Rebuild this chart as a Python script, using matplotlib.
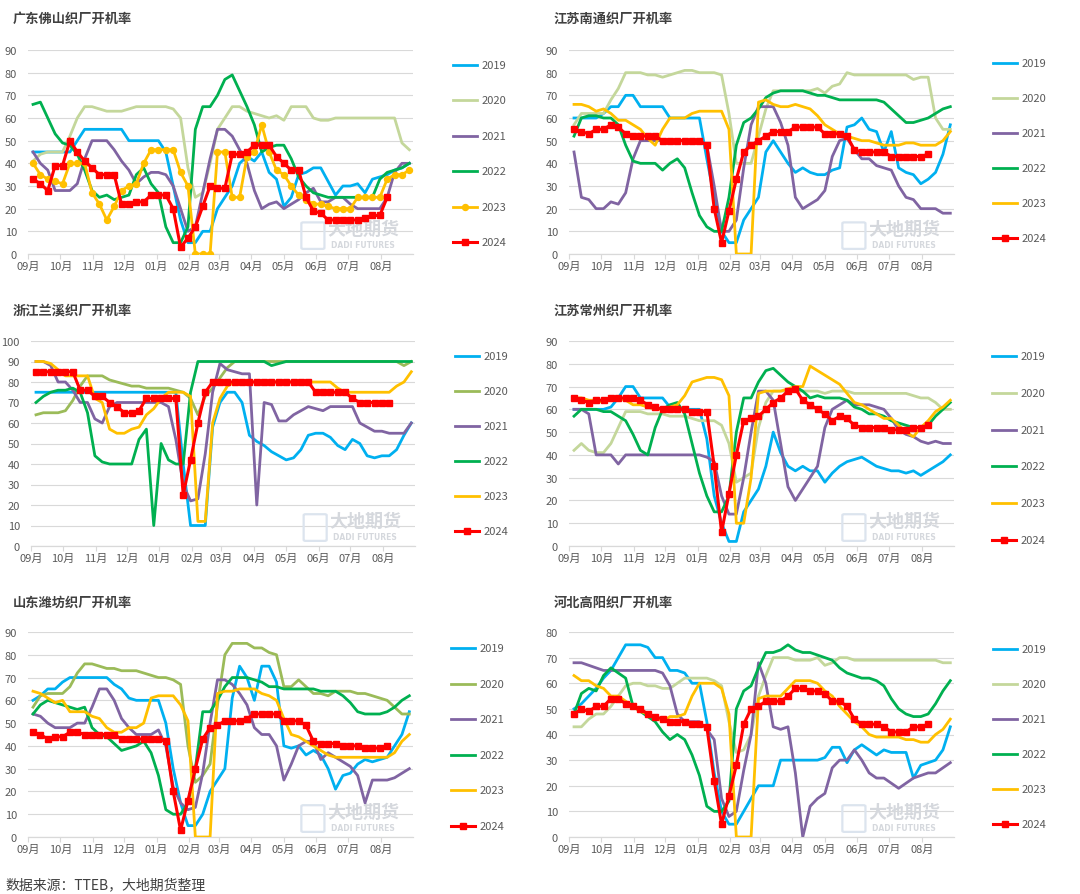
import numpy as np
import matplotlib
matplotlib.use('Agg')
import matplotlib.pyplot as plt
from matplotlib.lines import Line2D
from matplotlib.patches import FancyBboxPatch

plt.rcParams['font.family'] = ['Noto Sans CJK SC', 'DejaVu Sans']

# ---------------- data (weekly, k = 0..51) ----------------
months = ['09月', '10月', '11月', '12月', '01月', '02月', '03月', '04月', '05月', '06月', '07月', '08月']
years = ['2019', '2020', '2021', '2022', '2023', '2024']

# 广东佛山
fs_2019 = [45,45,45,45,45,45,50,55,55,55, 55,55,55,50,50,50,50,50,45,30, 15,5,5,10,10,20,25,30,40,43, 41,45,36,33,21,25,35,36,38,38, 32,26,30,30,31,27,33,34,35,37, 38,40]
fs_2020 = [41,44,45,45,45,52,60,65,65,64, 63,63,63,64,65,65,65,65,65,64, 60,38,25,27,40,55,60,65,65,63, 62,61,60,61,59,65,65,65,60,59, 59,60,60,60,60,60,60,60,60,60, 49,46]
fs_2021 = [45,40,37,28,28,28,31,42,50,50, 50,46,41,37,31,34,36,36,35,30, 20,10,12,27,42,55,55,52,46,40, 28,20,22,23,20,22,24,27,29,23, 23,25,25,22,20,20,20,20,25,36, 40,40]
fs_2022 = [66,67,60,53,49,48,44,37,28,25, 26,24,25,26,35,38,31,27,12,5, 5,12,55,65,65,70,77,79,72,65, 57,45,47,48,48,42,34,30,27,26, 25,25,25,25,25,25,25,33,36,37, 38,40]
fs_2023 = [40,35,33,32,31,40,40,40,27,22, 15,21,28,30,31,40,46,46,46,46, 36,30,0,0,0,45,45,25,25,43, 45,57,45,37,35,30,26,24,22,22, 21,20,20,20,25,25,25,25,33,35, 35,37]
fs_2024 = [33,31,28,39,39,50,45,41,38,35, 35,35,22,22,23,23,26,26,26,20, 3,7,12,21,30,29,29,44,44,45, 48,48,48,43,40,37,37,25,19,18, 15,15,15,15,15,16,17,17,25]

# 江苏南通
nt_2019 = [60,60,60,60,62,65,65,70,70,65, 65,65,65,60,60,60,60,60,42,25, 10,5,5,15,20,25,45,50,45,40, 36,38,36,35,35,37,38,56,57,60, 55,54,45,54,38,36,35,31,33,36, 44,57]
nt_2020 = [57,62,62,62,62,68,73,80,80,80, 79,79,78,79,80,81,81,80,80,80, 79,62,40,40,40,52,64,72,72,72, 72,72,72,73,71,74,75,80,79,79, 79,79,79,79,79,79,77,78,78,60, 55,55]
nt_2021 = [45,25,24,20,20,23,22,27,42,50, 50,50,50,50,50,50,50,50,48,30, 10,10,15,38,57,65,65,65,58,48, 25,20,22,24,28,43,50,51,46,42, 42,39,38,37,30,25,24,20,20,20, 18,18]
nt_2022 = [52,60,61,61,60,60,57,48,41,40, 40,40,37,40,42,38,27,17,12,10, 10,25,48,58,60,64,69,71,72,72, 72,72,71,70,70,69,68,68,68,68, 68,68,67,64,61,58,58,59,60,62, 64,65]
nt_2023 = [66,66,65,63,64,62,59,59,57,55, 51,48,55,60,60,60,62,63,63,63, 63,55,0,0,0,67,68,66,65,65, 66,65,64,61,57,55,53,52,51,50, 50,49,48,48,48,49,49,48,48,48, 50,54]
nt_2024 = [55,54,53,55,55,57,56,53,52,52, 52,52,50,50,50,50,50,50,48,20, 5,19,33,45,48,50,52,54,54,54, 56,56,56,56,53,53,53,52,46,45, 45,45,45,43,43,43,43,43,44]

# 浙江兰溪
lx_2019 = [75,75,75,75,75,75,75,75,75,75, 75,75,75,75,75,75,75,75,75,75, 40,10,10,10,58,70,75,75,70,54, 51,49,46,44,42,43,47,54,55,55, 53,49,47,52,50,44,43,44,44,47, 54,60]
lx_2020 = [64,65,65,65,66,71,78,83,83,83, 81,80,79,78,78,77,77,77,77,76, 75,72,64,73,77,82,87,90,90,90, 90,90,90,90,90,90,90,90,90,90, 90,90,90,90,90,90,90,90,90,90, 88,90]
lx_2021 = [90,90,88,80,80,76,70,70,62,60, 68,70,70,70,70,70,70,70,68,52, 30,22,23,45,75,89,86,85,84,84, 20,70,69,61,61,64,66,68,67,66, 68,68,68,68,60,58,56,56,55,55, 55,60]
lx_2022 = [70,73,75,76,76,77,75,65,44,41, 40,40,40,40,52,57,10,50,42,40, 40,75,90,90,90,90,90,90,90,90, 90,90,88,89,90,90,90,90,90,90, 90,90,90,90,90,90,90,90,90,90, 90,90]
lx_2023 = [90,90,89,86,83,83,83,83,72,70, 57,55,55,57,58,64,67,72,75,75, 75,73,12,12,60,72,78,80,80,80, 80,80,80,80,80,80,80,80,80,80, 80,77,75,75,75,75,75,75,75,78, 80,85]
lx_2024 = [85,85,85,85,85,85,76,76,73,73, 70,68,65,65,66,72,72,72,72,72, 25,42,60,75,80,80,80,80,80,80, 80,80,80,80,80,80,80,80,75,75, 75,75,75,72,70,70,70,70,70]

# 江苏常州
cz_2019 = [60,60,60,60,60,61,65,70,70,65, 65,65,65,61,60,60,60,60,47,22, 10,2,2,15,20,25,35,50,41,35, 33,35,33,33,28,32,35,37,38,39, 37,35,34,33,33,32,33,31,33,35, 37,40]
cz_2020 = [42,45,42,41,41,45,52,59,59,59, 58,58,58,57,57,57,56,55,55,55, 53,45,28,30,32,52,63,68,68,68, 68,68,68,68,67,68,68,68,67,67, 67,67,67,67,67,67,66,65,65,63, 60,60]
cz_2021 = [60,60,58,40,40,40,36,40,40,40, 40,40,40,40,40,40,40,40,39,37, 22,14,14,30,50,68,68,64,45,26, 20,25,30,35,52,60,62,64,62,62, 62,61,60,56,51,49,48,46,45,46, 45,45]
cz_2022 = [57,60,60,60,59,59,57,55,49,42, 40,52,60,62,63,58,45,32,22,15, 15,22,50,65,65,72,77,78,75,72, 70,68,65,66,65,65,65,64,61,60, 58,58,57,55,54,53,52,52,53,57, 60,63]
cz_2023 = [65,65,64,64,63,65,65,64,62,62, 61,60,60,61,62,66,72,73,74,74, 73,66,10,10,30,67,68,68,68,69, 70,70,79,77,75,73,71,67,63,62, 60,58,56,56,53,50,48,52,55,59, 61,64]
cz_2024 = [65,64,63,64,64,65,65,65,65,64, 62,61,60,60,60,60,59,59,59,35, 6,23,40,55,56,57,60,63,65,68, 69,64,62,60,58,55,57,56,53,52, 52,52,52,51,51,51,52,52,53]

# 山东潍坊
wf_2019 = [60,62,65,65,68,70,70,70,70,70, 70,67,65,61,60,60,60,60,50,30, 15,5,5,10,20,25,30,61,75,70, 60,75,75,68,40,39,40,36,38,36, 30,21,27,28,32,34,33,34,35,40, 45,55]
wf_2020 = [57,62,63,63,63,66,72,76,76,75, 74,74,73,73,73,72,71,70,70,69, 67,40,24,27,32,58,80,85,85,85, 83,83,81,80,66,66,69,66,63,63, 62,64,64,64,63,63,62,61,60,57, 54,54]
wf_2021 = [54,53,50,48,48,48,50,50,57,65, 65,60,52,48,45,45,45,47,40,22, 15,12,13,28,50,69,69,67,63,58, 48,45,45,40,25,32,40,42,42,34, 37,35,33,31,27,15,25,25,25,26, 28,30]
wf_2022 = [54,58,60,59,58,57,56,57,48,45, 44,41,38,39,40,42,37,27,12,10, 10,15,30,55,55,60,66,70,70,70, 69,68,66,66,65,65,65,65,65,64, 64,64,62,59,55,54,54,54,55,57, 60,62]
wf_2023 = [64,63,61,59,60,55,55,55,53,52, 48,46,46,48,48,50,61,62,62,62, 58,51,0,0,0,63,64,64,65,65, 65,63,62,60,52,45,44,42,40,38, 36,35,35,35,35,35,35,35,35,37, 42,45]
wf_2024 = [46,45,43,44,44,46,46,45,45,45, 45,45,43,43,43,43,43,43,42,20, 3,16,30,43,48,49,51,51,51,52, 54,54,54,54,51,51,51,49,42,41, 41,41,40,40,40,39,39,39,40]

# 河北高阳
gy_2019 = [50,52,55,58,62,65,70,75,75,75, 74,70,70,65,65,64,60,60,45,25, 10,5,5,10,15,20,20,20,30,30, 30,30,30,30,31,35,35,29,34,36, 34,32,34,33,33,33,23,28,29,30, 34,43]
gy_2020 = [43,43,46,48,48,51,55,59,60,60, 59,59,58,58,60,62,62,62,62,61, 59,45,33,34,40,55,63,70,70,70, 69,69,69,70,67,68,70,70,69,69, 69,69,69,69,69,69,69,69,69,69, 68,68]
gy_2021 = [68,68,67,66,65,65,65,65,65,65, 65,65,64,59,48,45,45,45,42,38, 15,8,10,26,40,68,60,43,42,43, 25,0,12,15,17,27,30,30,34,30, 25,23,23,21,19,21,23,24,25,25, 27,29]
gy_2022 = [48,56,58,57,63,66,64,62,51,49, 47,45,41,38,40,38,32,24,12,10, 10,14,50,57,59,66,72,72,73,75, 73,72,72,71,70,69,66,64,63,62, 62,61,59,54,50,48,47,47,48,52, 57,61]
gy_2023 = [63,61,61,59,58,55,55,53,51,49, 48,47,45,47,47,48,55,60,60,60, 58,48,0,0,0,54,55,55,55,58, 61,61,61,60,57,55,51,48,45,43, 40,39,39,39,39,38,38,37,37,40, 42,46]
gy_2024 = [48,50,49,51,51,54,54,52,51,50, 48,47,46,45,45,45,44,44,43,22, 5,16,28,44,50,51,53,53,53,55, 58,58,57,57,56,53,53,51,46,44, 44,44,43,41,41,41,43,43,44]

# ---------------- layout ----------------
W, H = 1080, 895
fig = plt.figure(figsize=(W / 100, H / 100), dpi=100)
fig.patch.set_facecolor('white')

month_pos = [-0.68, 3.7, 8.14, 12.35, 16.74, 21.18, 25.2, 29.6, 33.95, 38.4, 42.7, 47.2]

C19 = '#00B0F0'
C20L = '#C4D79B'
C20D = '#9BBB59'
C21 = '#8064A2'
C22 = '#00B050'
C23 = '#FFC000'
C24 = '#FF0000'
GRID = '#D9D9D9'
TXT = '#595959'

panels = [
    dict(title='广东佛山织厂开机率', data=[fs_2019, fs_2020, fs_2021, fs_2022, fs_2023, fs_2024],
         ymax=90, rect=(28, 51, 413, 255), title_xy=(13, 19), leg=(453, 66, 35.4), c20=C20L, m23=True),
    dict(title='江苏南通织厂开机率', data=[nt_2019, nt_2020, nt_2021, nt_2022, nt_2023, nt_2024],
         ymax=90, rect=(569, 51, 954, 255), title_xy=(554, 19), leg=(993, 64, 35.0), c20=C20L, m23=False),
    dict(title='浙江兰溪织厂开机率', data=[lx_2019, lx_2020, lx_2021, lx_2022, lx_2023, lx_2024],
         ymax=100, rect=(31, 342, 415, 547), title_xy=(13, 311), leg=(455, 357, 35.0), c20=C20D, m23=False),
    dict(title='江苏常州织厂开机率', data=[cz_2019, cz_2020, cz_2021, cz_2022, cz_2023, cz_2024],
         ymax=90, rect=(569, 342, 954, 547), title_xy=(554, 311), leg=(992, 357, 36.8), c20=C20L, m23=False),
    dict(title='山东潍坊织厂开机率', data=[wf_2019, wf_2020, wf_2021, wf_2022, wf_2023, wf_2024],
         ymax=90, rect=(28, 633, 413, 838), title_xy=(13, 603), leg=(451, 649, 35.6), c20=C20D, m23=False),
    dict(title='河北高阳织厂开机率', data=[gy_2019, gy_2020, gy_2021, gy_2022, gy_2023, gy_2024],
         ymax=80, rect=(569, 633, 954, 838), title_xy=(554, 603), leg=(993, 650, 35.0), c20=C20L, m23=False),
]


def fx(x):
    return x / W


def fy(y):
    return 1 - y / H


for p in panels:
    l, t, r, b = p['rect']
    ax = fig.add_axes([fx(l), fy(b), (r - l) / W, (b - t) / H])
    ax.set_facecolor('none')
    colors = [C19, p['c20'], C21, C22, C23, C24]
    for i, (vals, col) in enumerate(zip(p['data'], colors)):
        xs = np.arange(len(vals))
        if i == 5:
            ax.plot(xs, vals, color=col, lw=2.2, marker='s', markersize=4.8, zorder=10,
                    solid_joinstyle='miter')
        elif i == 4 and p['m23']:
            ax.plot(xs, vals, color=col, lw=2.0, marker='o', markersize=4.3, zorder=9)
        else:
            ax.plot(xs, vals, color=col, lw=2.0, zorder=3 + i)
    ax.set_xlim(-0.68, 51.5)
    ax.set_ylim(0, p['ymax'])
    ax.set_yticks(np.arange(0, p['ymax'] + 1, 10))
    ax.set_xticks(month_pos)
    ax.set_xticklabels(months)
    ax.grid(axis='y', color=GRID, lw=0.8, zorder=0)
    ax.set_axisbelow(True)
    for s in ['top', 'right', 'left']:
        ax.spines[s].set_visible(False)
    ax.spines['bottom'].set_color(GRID)
    ax.spines['bottom'].set_linewidth(0.9)
    ax.tick_params(axis='y', length=0, pad=8, labelsize=8, labelcolor=TXT)
    ax.tick_params(axis='x', length=3.5, width=0.8, color=GRID, pad=1.5, labelsize=8, labelcolor=TXT)

    # watermark
    ax.text(0.87, 0.125, '大地期货', transform=ax.transAxes, ha='center', va='center',
            fontsize=13, fontweight='bold', color='#D5D8DD', zorder=1)
    ax.text(0.87, 0.045, 'DADI FUTURES', transform=ax.transAxes, ha='center', va='center',
            fontsize=5.5, fontweight='bold', color='#D5D8DD', family=['DejaVu Sans'], zorder=1)
    ax.add_patch(FancyBboxPatch((0.715, 0.03), 0.05, 0.12, boxstyle='round,pad=0.005',
                                transform=ax.transAxes, fc='none', ec='#DCE4EE', lw=1.6, zorder=1))

    # title
    tx, ty = p['title_xy']
    fig.text(fx(tx), fy(ty), p['title'], ha='left', va='center', fontsize=9.5,
             fontweight='bold', color='#404040')

    # legend (manual)
    lx0, ly0, dy = p['leg']
    for i, (lab, col) in enumerate(zip(years, colors)):
        yy = fy(ly0 + i * dy)
        if i == 5:
            ln = Line2D([fx(lx0), fx(lx0 + 12), fx(lx0 + 24)], [yy, yy, yy], transform=fig.transFigure,
                        color=col, lw=2.2, marker='s', markersize=4.8, markevery=[1])
        elif i == 4 and p['m23']:
            ln = Line2D([fx(lx0), fx(lx0 + 12), fx(lx0 + 24)], [yy, yy, yy], transform=fig.transFigure,
                        color=col, lw=2.0, marker='o', markersize=4.3, markevery=[1])
        else:
            ln = Line2D([fx(lx0), fx(lx0 + 24)], [yy, yy], transform=fig.transFigure, color=col, lw=2.0)
        fig.add_artist(ln)
        fig.text(fx(lx0 + 29), yy, lab, ha='left', va='center', fontsize=8, color=TXT)

fig.text(fx(5), fy(885), '数据来源：TTEB，大地期货整理', ha='left', va='center', fontsize=10, color='#404040')

fig.savefig('out.png', dpi=100, facecolor='white')
